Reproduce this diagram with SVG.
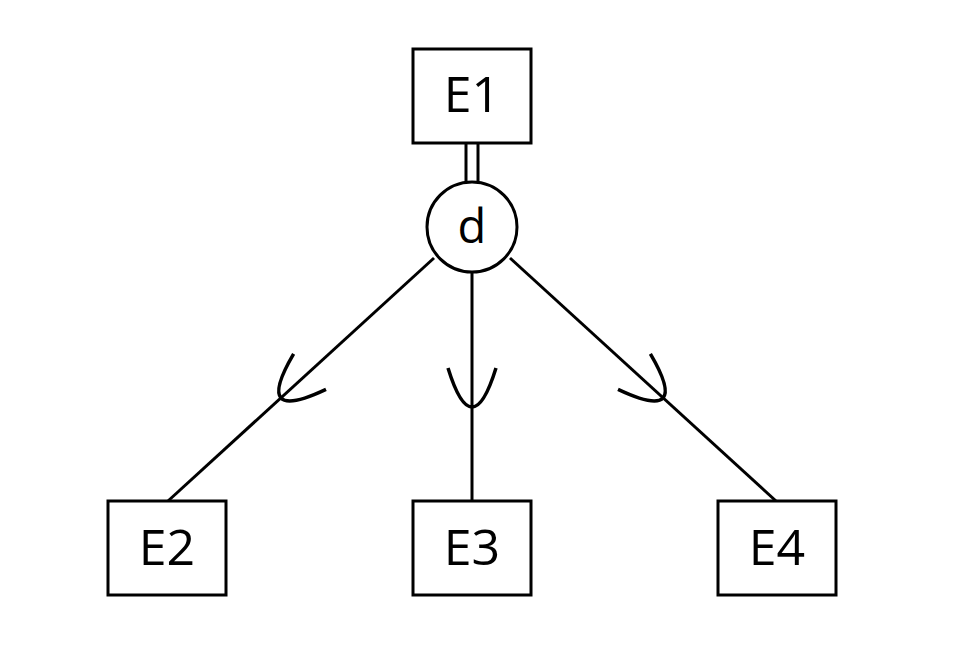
<svg xmlns="http://www.w3.org/2000/svg" xmlns:xlink="http://www.w3.org/1999/xlink" width="957" height="653" viewBox="0 0 957 653">
<style>
.box{fill:#fff;stroke:#000;stroke-width:3}
.lbl{font-family:"Open Sans","Liberation Sans",sans-serif;font-size:50px;fill:#000;text-anchor:middle}
.ln{stroke:#000;stroke-width:3;fill:none}
</style>
<defs>
<path id="subset" d="M -24 -39 Q 0 39 24 -39" fill="none" stroke="#000" stroke-width="3.5"/>
</defs>
<rect width="957" height="653" fill="#fff"/>
<g id="connectors">
<line class="ln" x1="466" y1="143" x2="466" y2="183"/>
<line class="ln" x1="478" y1="143" x2="478" y2="183"/>
<line class="ln" x1="434" y1="258" x2="168" y2="501"/>
<line class="ln" x1="472" y1="272" x2="472" y2="501"/>
<line class="ln" x1="510" y1="258" x2="776" y2="501"/>
<use xlink:href="#subset" transform="translate(281,398) rotate(47.6)"/>
<use xlink:href="#subset" transform="translate(472,407)"/>
<use xlink:href="#subset" transform="translate(663,398) rotate(-47.6)"/>
</g>
<g id="E1"><rect class="box" x="413" y="49" width="118" height="94"/><text class="lbl" x="472" y="112">E1</text></g>
<g id="d"><circle class="box" cx="472" cy="227" r="45"/><text class="lbl" x="472" y="243" style="font-size:47px">d</text></g>
<g id="E2"><rect class="box" x="108" y="501" width="118" height="94"/><text class="lbl" x="167" y="565">E2</text></g>
<g id="E3"><rect class="box" x="413" y="501" width="118" height="94"/><text class="lbl" x="472" y="565">E3</text></g>
<g id="E4"><rect class="box" x="718" y="501" width="118" height="94"/><text class="lbl" x="777" y="565">E4</text></g>
</svg>
